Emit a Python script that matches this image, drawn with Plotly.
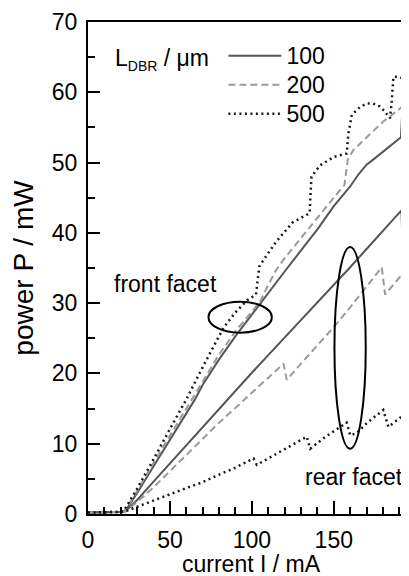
import plotly.graph_objects as go

# ---- data ----
# front facet
i_front_100 = [0, 10, 20, 23, 30, 40, 50, 60, 65, 70, 80, 90, 100, 110, 120, 130, 140, 150, 160, 165, 170, 175, 180, 185, 188, 190, 191, 191.6, 194, 196]
p_front_100 = [0.2, 0.2, 0.3, 0.5, 3.0, 6.8, 10.5, 14.3, 16.2, 18.4, 22.0, 25.3, 28.4, 31.5, 34.5, 37.5, 40.5, 43.8, 46.6, 48.3, 49.7, 50.6, 51.5, 52.4, 53.0, 53.3, 53.6, 56.3, 56.7, 57.2]

i_front_200 = [0, 10, 20, 22.5, 30, 40, 50, 60, 63.4, 70, 80, 90, 100, 105, 110, 115, 120, 130, 140, 150, 156.5, 158.5, 162, 170, 180, 190, 196]
p_front_200 = [0.2, 0.2, 0.3, 0.5, 3.3, 7.3, 11.2, 15.1, 16.3, 19.0, 22.7, 26.0, 28.9, 30.2, 32.6, 34.8, 36.4, 39.3, 42.1, 45.0, 46.8, 50.4, 51.8, 53.6, 55.8, 57.6, 58.9]

i_front_500 = [0, 10, 20, 22, 30, 40, 44, 50, 60, 65, 70, 77, 83, 90, 97, 102.5, 103.5, 104.5, 107, 115, 125, 135.3, 135.8, 136.4, 141.6, 150, 157.9, 158.9, 161, 166, 170, 174, 178, 181, 184.3, 185.3, 186.4, 190.4, 196]
p_front_500 = [0.2, 0.2, 0.3, 0.5, 3.6, 7.8, 9.6, 12.1, 16.3, 18.7, 20.9, 24.0, 26.6, 28.7, 30.4, 31.2, 33.0, 35.2, 36.1, 38.8, 41.5, 42.8, 45.5, 48.0, 49.6, 50.8, 51.3, 54.1, 56.8, 57.9, 58.4, 58.4, 58.0, 57.3, 56.3, 58.5, 62.2, 62.2, 61.2]

# rear facet
i_rear_100 = [0, 10, 20, 23, 30, 40, 50, 60, 70, 80, 90, 100, 110, 120, 130, 140, 150, 160, 170, 180, 191.3, 192, 196]
p_rear_100 = [0.2, 0.2, 0.3, 0.4, 2.0, 4.6, 7.2, 9.8, 12.4, 15.0, 17.6, 20.1, 22.6, 25.1, 27.6, 30.0, 32.6, 35.1, 37.7, 40.3, 43.2, 38.0, 39.3]

i_rear_200 = [0, 10, 20, 23, 30, 40, 50, 60, 70, 80, 90, 100, 110, 119.3, 121.3, 130, 140, 150, 160, 170, 179.3, 181.3, 190, 196]
p_rear_200 = [0.2, 0.2, 0.3, 0.4, 1.7, 3.8, 6.1, 8.5, 10.8, 13.0, 15.1, 17.2, 19.4, 21.4, 19.1, 21.4, 24.0, 26.6, 29.4, 32.4, 35.1, 31.2, 33.6, 35.3]

i_rear_500 = [0, 10, 20, 23, 30, 40, 50, 60, 68.6, 80, 90, 101, 103, 110, 120, 133.5, 135.6, 145, 157.9, 160, 164, 170, 180.2, 183.3, 190, 196]
p_rear_500 = [0.2, 0.2, 0.3, 0.4, 1.0, 1.9, 2.8, 3.7, 4.4, 5.6, 6.6, 7.9, 7.0, 7.9, 9.2, 11.0, 9.3, 11.0, 13.0, 11.2, 11.5, 12.9, 14.8, 12.4, 13.6, 14.8]

series_names = ["100", "200", "500"]
x_tick_vals = [0, 50, 100, 150]
y_tick_vals = [0, 10, 20, 30, 40, 50, 60, 70]
x_title = "current I / mA"
y_title = "power P / mW"

FONT = "Liberation Sans, Arial, Helvetica, sans-serif"
FS = 23
styles = {
    "100": dict(color="#555555", width=2, dash="solid"),
    "200": dict(color="#9a9a9a", width=2, dash="7px,4px"),
    "500": dict(color="#1a1a1a", width=2.5, dash="2px,3.5px"),
}

fig = go.Figure()
front = {"100": (i_front_100, p_front_100), "200": (i_front_200, p_front_200), "500": (i_front_500, p_front_500)}
rear = {"100": (i_rear_100, p_rear_100), "200": (i_rear_200, p_rear_200), "500": (i_rear_500, p_rear_500)}

for name in series_names:
    xs, ys = front[name]
    fig.add_trace(go.Scatter(x=xs, y=ys, mode="lines",
                             name=f"<span style='font-size:{FS}px'>{name}</span>",
                             legendgroup=name, line=styles[name], showlegend=True))
for name in series_names:
    xs, ys = rear[name]
    fig.add_trace(go.Scatter(x=xs, y=ys, mode="lines", name=name, legendgroup=name,
                             line=styles[name], showlegend=False))

# ellipses marking the facets
fig.add_shape(type="circle", xref="x", yref="y", x0=73.5, x1=112.2, y0=25.8, y1=30.2,
              line=dict(color="black", width=2))
fig.add_shape(type="circle", xref="x", yref="y", x0=150.4, x1=169.5, y0=9.3, y1=38.0,
              line=dict(color="black", width=2))

fig.add_annotation(x=47.1, y=32.7, text="front facet", showarrow=False,
                   font=dict(size=FS, color="black", family=FONT))
fig.add_annotation(x=162.3, y=5.3, text="rear facet", showarrow=False,
                   font=dict(size=FS, color="black", family=FONT))
# x-axis title placed as a paper annotation so it sits exactly below the tick labels
fig.add_annotation(xref="paper", yref="paper", x=0.51, y=-0.1025, yanchor="middle",
                   text=x_title, showarrow=False,
                   font=dict(size=FS, color="black", family=FONT))

# the page adds an 8px body margin, so the figure is shifted by 8px
fig.update_layout(
    width=401, height=576,
    margin=dict(l=80, r=0, t=14, b=70),
    paper_bgcolor="white", plot_bgcolor="white",
    font=dict(family=FONT, size=FS, color="black"),
    legend=dict(
        x=0.078, y=0.971, xanchor="left", yanchor="top",
        bgcolor="rgba(0,0,0,0)",
        title=dict(text="L<sub><span style='font-size:14px'>DBR</span></sub> / μm\u00a0",
                   side="left", font=dict(size=FS)),
        font=dict(size=20), itemwidth=53, tracegroupgap=0,
    ),
    xaxis=dict(
        range=[0, 195.9], showgrid=False, zeroline=False, automargin=False,
        showline=True, linecolor="black", linewidth=2, mirror=True,
        ticks="inside", tickvals=x_tick_vals, ticklen=13, tickwidth=2, tickcolor="black",
        minor=dict(dtick=10, ticks="inside", ticklen=7, tickwidth=2, tickcolor="black"),
        ticklabelstandoff=4,
    ),
    xaxis2=dict(
        overlaying="x", side="top", anchor="y", range=[0, 195.9], showgrid=False,
        zeroline=False, showline=False, showticklabels=False, automargin=False,
        ticks="inside", dtick=10, tick0=0, ticklen=3, tickwidth=1, tickcolor="#aaaaaa",
    ),
    yaxis=dict(
        range=[0, 70], showgrid=False, zeroline=False, automargin=False,
        showline=True, linecolor="black", linewidth=2,
        ticks="inside", tickvals=y_tick_vals, ticklen=12, tickwidth=2, tickcolor="black",
        minor=dict(dtick=5, ticks="inside", ticklen=7, tickwidth=2, tickcolor="black"),
        ticklabelstandoff=4,
        title=dict(text=y_title, standoff=10),
    ),
)

fig.write_html("out.html")
